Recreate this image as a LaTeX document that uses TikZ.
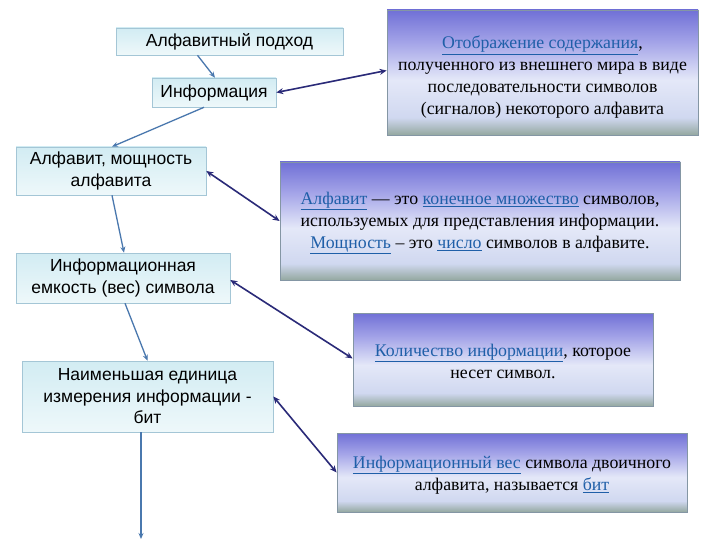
\documentclass[tikz,border=0pt]{standalone}
\usepackage{fontspec}
\setmainfont{Liberation Serif}
\newfontfamily\arialf{Liberation Sans}
\usetikzlibrary{arrows.meta}
\definecolor{lbtop}{HTML}{D2ECF3}
\definecolor{lbbot}{HTML}{EEF8FA}
\definecolor{lbdraw}{HTML}{A4C6D6}
\definecolor{rtop}{HTML}{7070D6}
\definecolor{rup}{HTML}{A4A4E8}
\definecolor{rmid}{HTML}{E4E8F8}
\definecolor{rlow}{HTML}{D0D8F0}
\definecolor{rbot}{HTML}{94A8A0}
\definecolor{rdraw}{HTML}{8496A4}
\definecolor{chain}{HTML}{4A78AE}
\definecolor{link}{HTML}{2A2A78}
\definecolor{hyper}{HTML}{1F5FA8}
\pgfdeclareverticalshading{rshade}{100bp}{color(0bp)=(rbot); color(25bp)=(rbot); color(32bp)=(rlow); color(47bp)=(rmid); color(62bp)=(rup); color(75bp)=(rtop); color(100bp)=(rtop)}
\newcommand{\lnk}[1]{\textcolor{hyper}{\underline{#1}}}
\tikzset{
  lbox/.style={draw=lbdraw, line width=0.6pt, top color=lbtop, bottom color=lbbot, rectangle, align=center, inner sep=0pt, font=\arialf\fontsize{17.5}{21.5}\selectfont},
  rbox/.style={draw=rdraw, line width=0.8pt, shading=rshade, rectangle, inner sep=0pt},
  rtext/.style={align=center, inner sep=0pt, font=\fontsize{17.8}{22}\selectfont},
  chainarrow/.style={draw=chain, line width=1.3pt, -{Stealth[length=6pt,width=5pt]}},
  linkarrow/.style={draw=link, line width=1.6pt, {Stealth[length=7pt,width=6pt]}-{Stealth[length=7pt,width=6pt]}}
}
\begin{document}
\begin{tikzpicture}[x=1pt,y=-1pt]
\useasboundingbox[fill=white] (0,0) rectangle (720,540);
% left column
\node[lbox, minimum width=227pt, minimum height=27pt] (L1) at (229.5,41.5) {Алфавитный подход};
\node[lbox, minimum width=124pt, minimum height=29pt] (L2) at (214,92.5) {Информация};
\node[lbox, minimum width=190pt, minimum height=48pt] (L3) at (111,171) {Алфавит, мощность\\алфавита};
\node[lbox, minimum width=214pt, minimum height=50pt] (L4) at (123,278) {Информационная\\емкость (вес) символа};
\node[lbox, minimum width=251pt, minimum height=71pt] (L5) at (147.5,396.5) {Наименьшая единица\\измерения информации -\\бит};
\coordinate (end) at (141,539);
% right column
\node[rbox, minimum width=311pt, minimum height=125pt] (A) at (542.5,72.5) {};
\node[rtext] (At) at ([yshift=-5pt]A.center) {\lnk{Отображение содержания},\\полученного из внешнего мира в виде\\последовательности символов\\(сигналов) некоторого алфавита};
\node[rbox, minimum width=400pt, minimum height=118pt] (B) at (480,221) {};
\node[rtext] (Bt) at ([yshift=-2pt]B.center) {\lnk{Алфавит} — это \lnk{конечное множество} символов,\\используемых для представления информации.\\\lnk{Мощность} – это \lnk{число} символов в алфавите.};
\node[rbox, minimum width=300pt, minimum height=93pt] (C) at (503,359.5) {};
\node[rtext] (Ct) at ([yshift=-1.5pt]C.center) {\lnk{Количество информации}, которое\\несет символ.};
\node[rbox, minimum width=350pt, minimum height=79pt] (D) at (512,472.5) {};
\node[rtext] (Dt) at ([yshift=-2.5pt]D.center) {\lnk{Информационный вес} символа двоичного\\алфавита, называется \lnk{бит}};
% chain arrows
\draw[chainarrow] ([xshift=-32pt]L1.south) -- ([xshift=1pt]L2.north);
\draw[chainarrow] ([xshift=-10pt]L2.south) -- ([xshift=1pt]L3.north);
\draw[chainarrow] ([xshift=1pt]L3.south) -- ([xshift=1pt]L4.north);
\draw[chainarrow] ([xshift=2pt]L4.south) -- (L5.north);
\draw[chainarrow] (L5.south -| end) -- (end);
% link arrows
\draw[linkarrow] (L2.east) -- ([yshift=2pt]A.west);
\draw[linkarrow] (L3.east) -- (B.west);
\draw[linkarrow] ([yshift=-2pt]L4.east) -- ([yshift=1pt]C.west);
\draw[linkarrow] (L5.east) -- (D.west);
\end{tikzpicture}
\end{document}
